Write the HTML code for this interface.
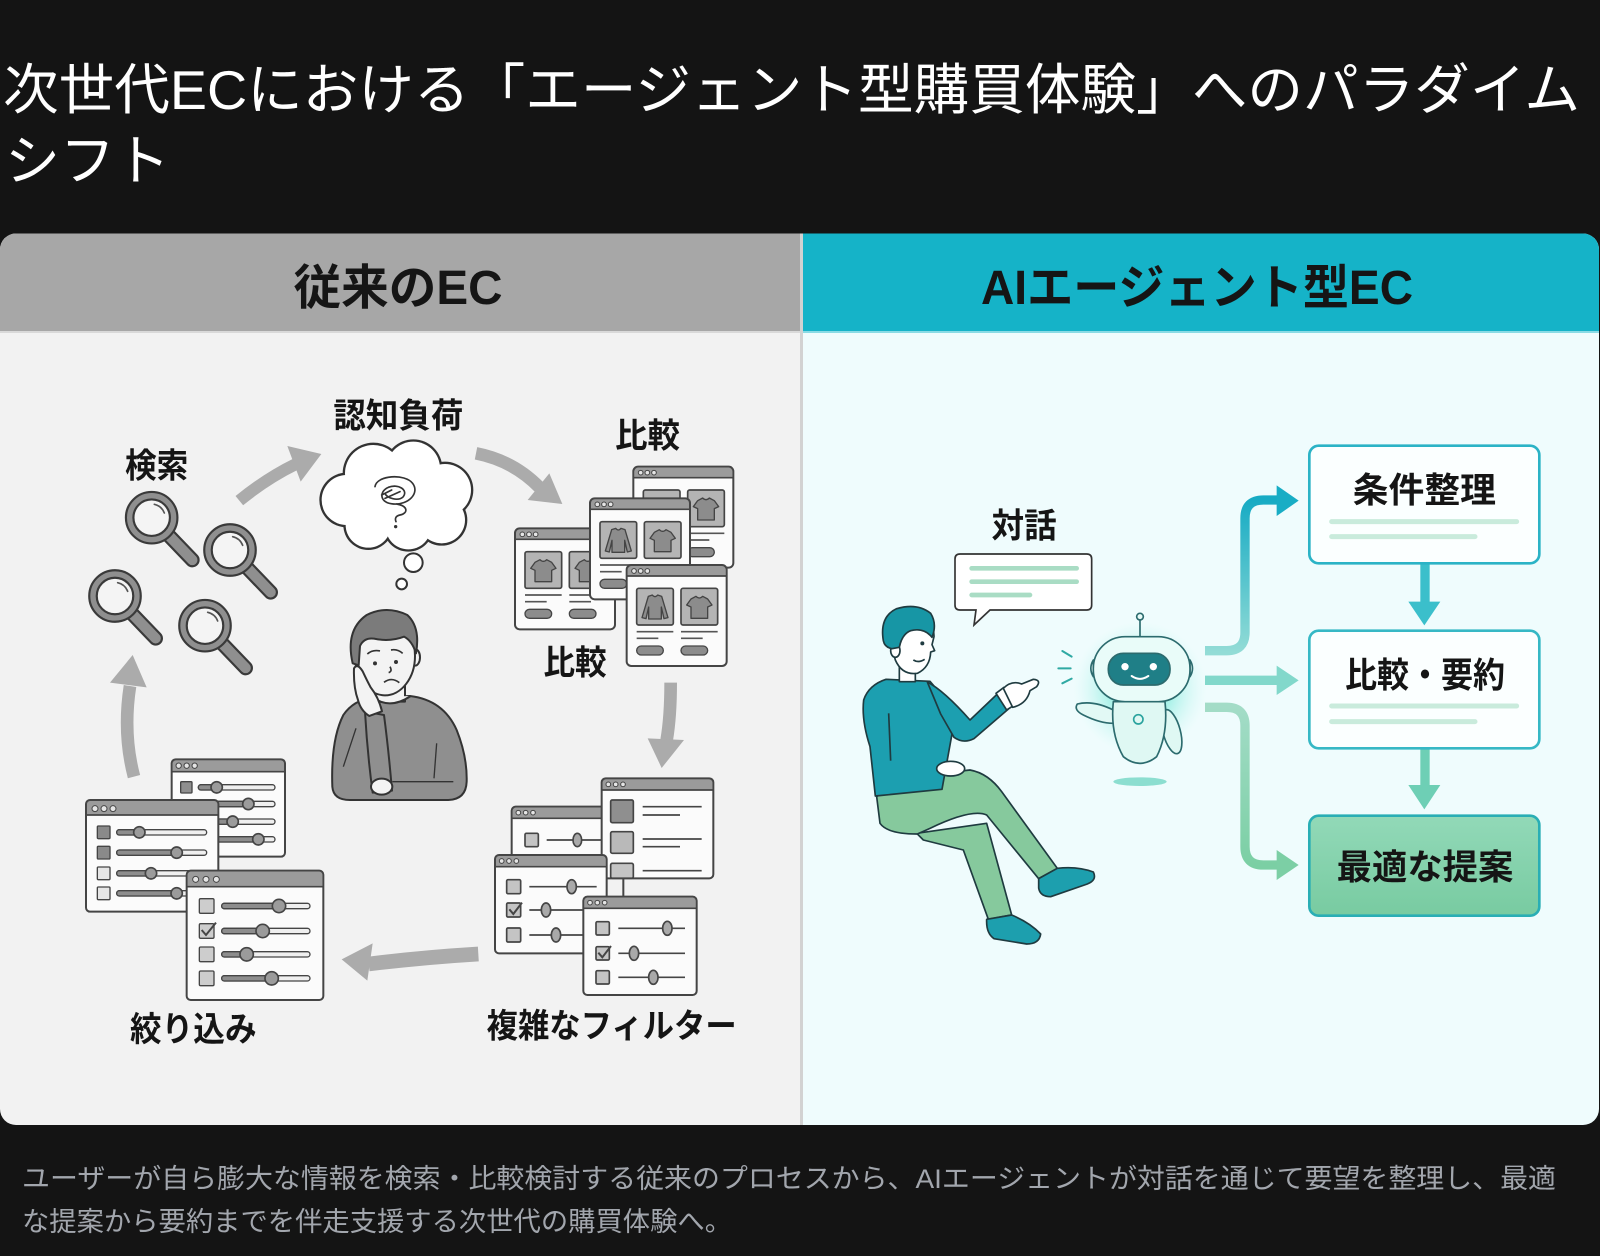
<!DOCTYPE html>
<html lang="ja"><head><meta charset="utf-8">
<style>
html,body{margin:0;padding:0;background:#141414;width:1600px;height:1256px;overflow:hidden}
svg{display:block}
text{font-family:"Liberation Sans","Noto Sans CJK JP",sans-serif}
.b{font-weight:700;fill:#151515}
</style></head><body>
<svg xmlns="http://www.w3.org/2000/svg" width="1600" height="1256" viewBox="0 0 1600 1256">
<defs>
<clipPath id="panel"><rect x="0" y="233.5" width="1599" height="891.5" rx="16"/></clipPath>
<linearGradient id="gTop" gradientUnits="userSpaceOnUse" x1="0" y1="240" x2="0" y2="700"><stop offset="0" stop-color="#17abc4"/><stop offset="1" stop-color="#93dcd6"/></linearGradient>
<linearGradient id="gBot" gradientUnits="userSpaceOnUse" x1="0" y1="862" x2="0" y2="1335"><stop offset="0" stop-color="#a3dcc7"/><stop offset="1" stop-color="#7bcfa4"/></linearGradient>
<linearGradient id="gBox" x1="0" y1="0" x2="0" y2="1"><stop offset="0" stop-color="#92d9b8"/><stop offset="1" stop-color="#78cba1"/></linearGradient>
<radialGradient id="glow" cx="0.5" cy="0.5" r="0.5"><stop offset="0" stop-color="#45e0cc" stop-opacity="0.85"/><stop offset="0.5" stop-color="#6ee8d6" stop-opacity="0.5"/><stop offset="1" stop-color="#bff5ee" stop-opacity="0"/></radialGradient>
<g id="mag">
 <line x1="50" y1="52" x2="122" y2="127" stroke="#3a3a3a" stroke-width="44" stroke-linecap="round"/>
 <line x1="50" y1="52" x2="122" y2="127" stroke="#8f8f8f" stroke-width="31" stroke-linecap="round"/>
 <circle r="66" fill="#f4f4f4" stroke="#3a3a3a" stroke-width="29"/>
 <circle r="66" fill="none" stroke="#8f8f8f" stroke-width="16"/>
 <path d="M8,-40 A42,42 0 0 1 38,-14" fill="none" stroke="#555" stroke-width="5" stroke-linecap="round"/>
</g>
<g id="cwin">
 <rect x="0" y="0" width="300" height="303" rx="14" fill="#fbfbfb"/>
 <rect x="3" y="3" width="294" height="30" fill="#9b9b9b"/>
 <line x1="0" y1="33" x2="300" y2="33" stroke="#454545" stroke-width="5"/>
 <rect x="0" y="0" width="300" height="303" rx="14" fill="none" stroke="#454545" stroke-width="6"/>
 <g fill="#e5e5e5" stroke="#444" stroke-width="3"><circle cx="22" cy="18" r="7"/><circle cx="42" cy="18" r="7"/><circle cx="62" cy="18" r="7"/></g>
 <g fill="#b4b4b4" stroke="#454545" stroke-width="5"><rect x="30" y="70" width="110" height="110" rx="6"/><rect x="163" y="70" width="110" height="110" rx="6"/></g>
 <path d="M30,200 L140,200 M30,220 L95,220 M163,200 L273,200 M163,220 L228,220" stroke="#555" stroke-width="5"/>
 <g fill="#8c8c8c" stroke="#454545" stroke-width="4"><rect x="30" y="243" width="80" height="27" rx="13.5"/><rect x="163" y="243" width="80" height="27" rx="13.5"/></g>
</g>
<path id="tee" d="M30,32 L45,24 Q55,34 65,24 L80,32 L93,50 L80,56 L80,90 L30,90 L30,56 L17,50 Z" fill="#8c8c8c" stroke="#444" stroke-width="4" stroke-linejoin="round"/>
<path id="ls" d="M35,24 L47,20 Q55,30 63,20 L75,24 L94,88 L82,91 L74,56 L74,92 L36,92 L36,56 L28,91 L16,88 Z" fill="#8c8c8c" stroke="#444" stroke-width="4" stroke-linejoin="round"/>
</defs>

<rect width="1600" height="1256" fill="#141414"/>
<text x="3" y="109" font-size="55" fill="#fff" textLength="1577" lengthAdjust="spacingAndGlyphs">次世代ECにおける「エージェント型購買体験」へのパラダイム</text>
<text x="5" y="180" font-size="55" fill="#fff">シフト</text>

<g clip-path="url(#panel)">
 <rect x="0" y="233" width="800" height="893" fill="#f2f2f2"/>
 <rect x="800" y="233" width="800" height="893" fill="#effcfd"/>
 <rect x="0" y="233" width="800" height="99" fill="#a7a7a7"/>
 <rect x="803" y="233" width="797" height="99" fill="#15b3c8"/>
 <rect x="0" y="331" width="800" height="2" fill="#d9d9d9"/>
 <rect x="803" y="331" width="797" height="2" fill="#8adbe5"/>
 <rect x="800" y="233" width="3" height="893" fill="#d2d2d2"/>
</g>
<text class="b" x="398" y="304" font-size="48" text-anchor="middle" textLength="209" lengthAdjust="spacingAndGlyphs">従来のEC</text>
<text class="b" x="1197" y="304" font-size="48" text-anchor="middle" textLength="432" lengthAdjust="spacingAndGlyphs">AIエージェント型EC</text>

<!-- zoom2 region: search, cloud -->
<g transform="translate(80,380) scale(0.33333)">
 <text class="b" x="135" y="293" font-size="102" textLength="190" lengthAdjust="spacingAndGlyphs">検索</text>
 <text class="b" x="760" y="143" font-size="102" textLength="390" lengthAdjust="spacingAndGlyphs">認知負荷</text>
 <path d="M478,362 Q560,295 648,252" fill="none" stroke="#ababab" stroke-width="36"/>
 <polygon points="622,198 724,222 662,305" fill="#ababab"/>
 <use href="#mag" x="215" y="413"/>
 <use href="#mag" x="450" y="510"/>
 <use href="#mag" x="105" y="648"/>
 <use href="#mag" x="375" y="737"/>
 <g fill="#333">
  <circle cx="800" cy="360" r="82"/><circle cx="880" cy="280" r="92"/><circle cx="1000" cy="265" r="87"/><circle cx="1095" cy="330" r="85"/><circle cx="1085" cy="420" r="77"/><circle cx="985" cy="440" r="75"/><circle cx="865" cy="435" r="75"/><circle cx="955" cy="345" r="107"/>
 </g>
 <g fill="#fff">
  <circle cx="800" cy="360" r="75"/><circle cx="880" cy="280" r="85"/><circle cx="1000" cy="265" r="80"/><circle cx="1095" cy="330" r="78"/><circle cx="1085" cy="420" r="70"/><circle cx="985" cy="440" r="68"/><circle cx="865" cy="435" r="68"/><circle cx="955" cy="345" r="100"/>
 </g>
 <path d="M885,320 C890,285 975,280 998,310 C1020,340 985,375 940,372 C900,370 895,335 925,322 C955,310 985,330 970,350 C955,365 920,355 915,340 M905,345 L935,330 M915,355 L960,335 M950,372 C985,378 985,400 960,405 C945,408 945,418 948,425" fill="none" stroke="#333" stroke-width="5" stroke-linecap="round"/>
 <circle cx="947" cy="440" r="5" fill="#333"/>
 <circle cx="1000" cy="548" r="28" fill="#fff" stroke="#333" stroke-width="6"/>
 <circle cx="965" cy="612" r="16" fill="#fff" stroke="#333" stroke-width="6"/>
</g>

<!-- zoom3 region: compare windows -->
<g transform="translate(480,400) scale(0.33333)">
 <text class="b" x="405" y="143" font-size="102" textLength="195" lengthAdjust="spacingAndGlyphs">比較</text>
 <path d="M-12,160 Q100,182 178,262" fill="none" stroke="#ababab" stroke-width="38"/>
 <polygon points="208,220 247,312 143,300" fill="#ababab"/>
 <use href="#cwin" x="460" y="200"/><use href="#tee" x="623" y="270"/>
 <use href="#cwin" x="105" y="385"/><use href="#tee" x="135" y="455"/><use href="#tee" x="268" y="455"/>
 <use href="#cwin" x="330" y="295"/><use href="#ls" x="360" y="365"/><use href="#tee" x="493" y="365"/>
 <use href="#cwin" x="440" y="495"/><use href="#ls" x="470" y="565"/><use href="#tee" x="603" y="565"/>
 <text class="b" x="190" y="823" font-size="102" textLength="190" lengthAdjust="spacingAndGlyphs">比較</text>
</g>

<!-- zoom5 region: complex filters -->
<g transform="translate(470,660) scale(0.33333)">
 <path d="M602,68 Q602,170 590,240" fill="none" stroke="#ababab" stroke-width="38"/>
 <polygon points="533,235 642,240 575,324" fill="#ababab"/>
 <g stroke="#454545" stroke-width="5">
  <rect x="125" y="440" width="295" height="200" rx="12" fill="#fbfbfb" stroke="none"/>
  <rect x="128" y="443" width="289" height="32" fill="#9b9b9b" stroke="none"/>
  <line x1="125" y1="475" x2="420" y2="475"/>
  <rect x="125" y="440" width="295" height="200" rx="12" fill="none" stroke-width="6"/>
  <g fill="#e5e5e5" stroke-width="3"><circle cx="145" cy="458" r="7"/><circle cx="167" cy="458" r="7"/><circle cx="189" cy="458" r="7"/></g>
  <rect x="165" y="520" width="40" height="40" rx="4" fill="#c4c4c4"/>
  <line x1="230" y1="540" x2="415" y2="540"/>
  <ellipse cx="322" cy="540" rx="13" ry="20" fill="#a9a9a9"/>
  <rect x="395" y="355" width="335" height="300" rx="12" fill="#fbfbfb" stroke="none"/>
  <rect x="398" y="358" width="329" height="32" fill="#9b9b9b" stroke="none"/>
  <line x1="395" y1="390" x2="730" y2="390"/>
  <rect x="422" y="420" width="68" height="68" rx="5" fill="#8f8f8f"/>
  <rect x="422" y="515" width="68" height="65" rx="5" fill="#b9b9b9"/>
  <rect x="422" y="610" width="68" height="45" rx="5" fill="#c4c4c4"/>
  <path d="M518,440 L695,440 M518,465 L630,465 M518,537 L695,537 M518,560 L630,560 M518,632 L695,632" fill="none"/>
  <rect x="395" y="355" width="335" height="300" rx="12" fill="none" stroke-width="6"/>
  <g fill="#e5e5e5" stroke-width="3"><circle cx="415" cy="373" r="7"/><circle cx="437" cy="373" r="7"/><circle cx="459" cy="373" r="7"/></g>
  <line x1="460" y1="655" x2="460" y2="712" stroke-width="6"/>
  <rect x="75" y="585" width="335" height="295" rx="12" fill="#fbfbfb" stroke="none"/>
  <rect x="78" y="588" width="329" height="32" fill="#9b9b9b" stroke="none"/>
  <line x1="75" y1="620" x2="410" y2="620"/>
  <rect x="75" y="585" width="335" height="295" rx="12" fill="none" stroke-width="6"/>
  <g fill="#e5e5e5" stroke-width="3"><circle cx="95" cy="603" r="7"/><circle cx="117" cy="603" r="7"/><circle cx="139" cy="603" r="7"/></g>
  <g fill="#c4c4c4"><rect x="110" y="659" width="42" height="42" rx="4"/><rect x="110" y="729" width="42" height="42" rx="4"/><rect x="110" y="804" width="42" height="42" rx="4"/></g>
  <path d="M118,748 L130,762 L156,728" fill="none" stroke-width="6"/>
  <path d="M178,680 L380,680 M178,750 L380,750 M178,825 L380,825" fill="none"/>
  <g fill="#a9a9a9"><ellipse cx="305" cy="680" rx="14" ry="21"/><ellipse cx="228" cy="750" rx="14" ry="21"/><ellipse cx="258" cy="825" rx="14" ry="21"/></g>
  <rect x="340" y="710" width="340" height="295" rx="12" fill="#fbfbfb" stroke="none"/>
  <rect x="343" y="713" width="334" height="32" fill="#9b9b9b" stroke="none"/>
  <line x1="340" y1="745" x2="680" y2="745"/>
  <rect x="340" y="710" width="340" height="295" rx="12" fill="none" stroke-width="6"/>
  <g fill="#e5e5e5" stroke-width="3"><circle cx="360" cy="728" r="7"/><circle cx="382" cy="728" r="7"/><circle cx="404" cy="728" r="7"/></g>
  <g fill="#c4c4c4"><rect x="378" y="785" width="40" height="40" rx="4"/><rect x="378" y="860" width="40" height="40" rx="4"/><rect x="378" y="932" width="40" height="40" rx="4"/></g>
  <path d="M385,878 L397,892 L423,858" fill="none" stroke-width="6"/>
  <path d="M445,805 L645,805 M445,880 L645,880 M445,952 L645,952" fill="none"/>
  <g fill="#a9a9a9"><ellipse cx="592" cy="805" rx="14" ry="21"/><ellipse cx="492" cy="880" rx="14" ry="21"/><ellipse cx="550" cy="952" rx="14" ry="21"/></g>
 </g>
 <text class="b" x="50" y="1133" font-size="100" textLength="750" lengthAdjust="spacingAndGlyphs">複雑なフィルター</text>
</g>

<!-- zoom4 region: narrowing, sad person -->
<g transform="translate(80,600) scale(0.33333)">
 <path d="M162,530 Q128,400 150,258" fill="none" stroke="#ababab" stroke-width="38"/>
 <polygon points="90,248 158,165 200,262" fill="#ababab"/>
 <path d="M1195,1062 Q1030,1072 866,1092" fill="none" stroke="#ababab" stroke-width="44"/>
 <polygon points="878,1030 785,1078 862,1142" fill="#ababab"/>
 <g stroke="#454545" stroke-width="4">
  <rect x="275" y="478" width="340" height="292" rx="12" fill="#fbfbfb" stroke="none"/>
  <rect x="278" y="481" width="334" height="34" fill="#9b9b9b" stroke="none"/>
  <line x1="275" y1="515" x2="615" y2="515" stroke-width="5"/>
  <rect x="275" y="478" width="340" height="292" rx="12" fill="none" stroke-width="6"/>
  <g fill="#e5e5e5" stroke-width="3"><circle cx="296" cy="497" r="8"/><circle cx="320" cy="497" r="8"/><circle cx="344" cy="497" r="8"/></g>
  <rect x="302" y="545" width="34" height="34" rx="3" fill="#8f8f8f"/>
  <g fill="#efefef"><rect x="355" y="554" width="230" height="16" rx="8"/><rect x="355" y="604" width="230" height="16" rx="8"/><rect x="355" y="657" width="230" height="16" rx="8"/><rect x="355" y="710" width="230" height="16" rx="8"/></g>
  <g fill="#8d8d8d"><rect x="355" y="554" width="55" height="16" rx="8"/><rect x="355" y="604" width="150" height="16" rx="8"/><rect x="355" y="657" width="103" height="16" rx="8"/><rect x="355" y="710" width="180" height="16" rx="8"/></g>
  <g fill="#9b9b9b" stroke-width="5"><circle cx="410" cy="562" r="17"/><circle cx="505" cy="612" r="17"/><circle cx="458" cy="665" r="17"/><circle cx="535" cy="718" r="17"/></g>
  <rect x="18" y="600" width="397" height="335" rx="12" fill="#fbfbfb" stroke="none"/>
  <rect x="21" y="603" width="391" height="42" fill="#9b9b9b" stroke="none"/>
  <line x1="18" y1="645" x2="415" y2="645" stroke-width="5"/>
  <rect x="18" y="600" width="397" height="335" rx="12" fill="none" stroke-width="6"/>
  <g fill="#e5e5e5" stroke-width="3"><circle cx="45" cy="626" r="9"/><circle cx="72" cy="626" r="9"/><circle cx="99" cy="626" r="9"/></g>
  <rect x="52" y="678" width="38" height="38" rx="3" fill="#8a8a8a"/>
  <rect x="52" y="739" width="38" height="38" rx="3" fill="#8a8a8a"/>
  <rect x="52" y="801" width="38" height="38" rx="3" fill="#e6e6e6"/>
  <rect x="52" y="861" width="38" height="38" rx="3" fill="#e6e6e6"/>
  <g fill="#efefef"><rect x="110" y="689" width="270" height="16" rx="8"/><rect x="110" y="750" width="270" height="16" rx="8"/><rect x="110" y="812" width="270" height="16" rx="8"/><rect x="110" y="872" width="270" height="16" rx="8"/></g>
  <g fill="#8d8d8d"><rect x="110" y="689" width="68" height="16" rx="8"/><rect x="110" y="750" width="180" height="16" rx="8"/><rect x="110" y="812" width="103" height="16" rx="8"/><rect x="110" y="872" width="180" height="16" rx="8"/></g>
  <g fill="#9b9b9b" stroke-width="5"><circle cx="178" cy="697" r="17"/><circle cx="290" cy="758" r="17"/><circle cx="213" cy="820" r="17"/><circle cx="290" cy="880" r="17"/></g>
  <rect x="320" y="812" width="410" height="388" rx="12" fill="#fbfbfb" stroke="none"/>
  <rect x="323" y="815" width="404" height="45" fill="#9b9b9b" stroke="none"/>
  <line x1="320" y1="860" x2="730" y2="860" stroke-width="5"/>
  <rect x="320" y="812" width="410" height="388" rx="12" fill="none" stroke-width="6"/>
  <g fill="#e5e5e5" stroke-width="3"><circle cx="347" cy="838" r="9"/><circle cx="378" cy="838" r="9"/><circle cx="409" cy="838" r="9"/></g>
  <g fill="#cdcdcd"><rect x="358" y="896" width="44" height="44" rx="4"/><rect x="358" y="971" width="44" height="44" rx="4"/><rect x="358" y="1041" width="44" height="44" rx="4"/><rect x="358" y="1113" width="44" height="44" rx="4"/></g>
  <path d="M365,990 L378,1005 L408,968" fill="none" stroke-width="6"/>
  <g fill="#efefef"><rect x="425" y="910" width="265" height="16" rx="8"/><rect x="425" y="985" width="265" height="16" rx="8"/><rect x="425" y="1055" width="265" height="16" rx="8"/><rect x="425" y="1127" width="265" height="16" rx="8"/></g>
  <g fill="#8d8d8d"><rect x="425" y="910" width="172" height="16" rx="8"/><rect x="425" y="985" width="123" height="16" rx="8"/><rect x="425" y="1055" width="75" height="16" rx="8"/><rect x="425" y="1127" width="150" height="16" rx="8"/></g>
  <g fill="#9b9b9b" stroke-width="5"><circle cx="597" cy="918" r="20"/><circle cx="548" cy="993" r="20"/><circle cx="500" cy="1063" r="20"/><circle cx="575" cy="1135" r="20"/></g>
 </g>
 <g stroke="#333" stroke-width="6" stroke-linejoin="round">
  <path d="M757,560 Q752,420 790,345 Q820,300 880,292 L990,288 Q1090,300 1130,390 Q1162,470 1160,545 Q1158,598 1105,600 L810,600 Q760,600 757,560 Z" fill="#8f8f8f"/>
  <path d="M790,500 L828,385" fill="none" stroke-width="4"/>
  <path d="M1062,535 L1070,430" fill="none" stroke-width="4"/>
  <rect x="885" y="240" width="90" height="65" fill="#f3f3f3"/>
  <path d="M878,292 Q930,330 992,288" fill="#f3f3f3"/>
  <ellipse cx="1005" cy="172" rx="15" ry="25" fill="#f3f3f3"/>
  <ellipse cx="915" cy="168" rx="90" ry="118" fill="#f3f3f3"/>
  <path d="M818,190 Q795,90 860,45 Q920,15 982,45 Q1022,82 1008,160 Q996,122 972,110 Q930,126 882,116 Q852,112 840,138 L836,196 Z" fill="#7b7b7b"/>
  <path d="M862,162 Q878,148 900,153 M933,150 Q952,146 968,160 M930,200 Q938,214 926,218 M912,247 Q935,230 958,248" fill="none" stroke-width="5"/>
  <circle cx="885" cy="190" r="6" fill="#333" stroke="none"/>
  <circle cx="948" cy="186" r="6" fill="#333" stroke="none"/>
  <path d="M855,335 Q862,460 878,578 L936,572 Q926,452 912,345 Z" fill="#8f8f8f"/>
  <path d="M822,205 Q832,188 848,214 Q862,244 872,262 Q896,292 906,334 L868,348 Q842,332 834,300 Q820,262 822,205 Z" fill="#f3f3f3"/>
  <ellipse cx="905" cy="560" rx="32" ry="24" fill="#f3f3f3"/>
  <path d="M937,545 L1120,545" fill="none" stroke-width="4"/>
 </g>
 <text class="b" x="150" y="1323" font-size="102" textLength="380" lengthAdjust="spacingAndGlyphs">絞り込み</text>
</g>

<!-- zoom6 region: person + robot -->
<g transform="translate(830,480) scale(0.33333)">
 <text class="b" x="485" y="173" font-size="102" textLength="195" lengthAdjust="spacingAndGlyphs">対話</text>
 <path d="M390,222 L770,222 Q785,222 785,237 L785,375 Q785,390 770,390 L480,390 L432,435 L438,390 L390,390 Q375,390 375,375 L375,237 Q375,222 390,222 Z" fill="#fff" stroke="#333" stroke-width="5"/>
 <path d="M425,265 L740,265 M425,305 L740,305 M425,345 L600,345" stroke="#a9dcc4" stroke-width="14" stroke-linecap="round"/>
 <g stroke="#1f3b40" stroke-width="5" stroke-linejoin="round">
  <path d="M260,1060 L470,1030 L545,1305 L475,1318 L400,1110 L280,1080 Z" fill="#86c99d"/>
  <path d="M470,1318 L545,1305 Q600,1328 632,1362 Q628,1392 590,1392 L492,1376 Q468,1360 470,1318 Z" fill="#1d9fae"/>
  <path d="M140,950 Q200,900 330,880 L420,870 Q475,880 515,935 L682,1165 L626,1196 L470,1005 Q425,985 300,1045 L262,1062 Q172,1062 150,1030 Z" fill="#86c99d"/>
  <path d="M626,1196 L682,1165 Q742,1158 790,1176 Q802,1200 772,1212 L662,1250 Q630,1250 626,1224 Z" fill="#1d9fae"/>
  <path d="M168,598 Q116,615 101,660 Q94,720 120,800 L136,948 L336,928 L366,762 Q346,652 300,604 Z" fill="#1c9fb0"/>
  <path d="M176,700 L182,842" fill="none"/>
  <ellipse cx="362" cy="866" rx="42" ry="22" fill="#fff"/>
  <path d="M292,606 Q342,632 420,720 L502,642 L534,688 L432,776 Q400,792 372,772 L332,702 Z" fill="#1c9fb0"/>
  <path d="M498,640 L522,622 L552,676 L530,690 Z" fill="#fff"/>
  <path d="M520,625 Q545,600 575,612 L610,598 Q635,600 620,620 L600,632 Q590,672 548,682 Z" fill="#fff"/>
  <rect x="208" y="555" width="48" height="50" fill="#fff"/>
  <path d="M178,470 Q182,382 252,386 Q312,396 312,470 L306,494 L314,512 L302,516 Q300,562 262,580 Q216,586 196,540 Z" fill="#fff"/>
  <ellipse cx="196" cy="512" rx="14" ry="20" fill="#fff"/>
  <path d="M160,482 Q148,410 200,386 Q262,368 302,400 Q322,432 306,472 Q282,442 242,452 Q216,462 208,502 L186,506 Q164,502 160,482 Z" fill="#1796a5"/>
  <circle cx="277" cy="490" r="6" fill="#1f3b40" stroke="none"/>
  <path d="M250,540 Q266,550 284,538" fill="none"/>
 </g>
 <circle cx="930" cy="625" r="200" fill="url(#glow)"/>
 <ellipse cx="930" cy="905" rx="80" ry="13" fill="#7ad8c8" opacity="0.85"/>
 <path d="M697,513 L725,530 M685,565 L722,565 M697,610 L725,596" stroke="#2fa9a3" stroke-width="6" stroke-linecap="round"/>
 <g stroke="#2c6b6e" stroke-width="5" stroke-linejoin="round">
  <line x1="930" y1="420" x2="930" y2="472"/>
  <circle cx="930" cy="410" r="10" fill="#e8fbf8"/>
  <path d="M850,690 Q790,660 742,672 Q730,690 760,705 Q810,730 850,730 Z" fill="#e2f9f5"/>
  <ellipse cx="1025" cy="755" rx="26" ry="68" transform="rotate(-15 1025 755)" fill="#dff8f3"/>
  <path d="M850,665 Q840,760 880,830 Q930,870 980,830 Q1015,760 1005,665 Z" fill="#dff8f3"/>
  <circle cx="925" cy="718" r="14" fill="none" stroke="#2aa39e"/>
  <path d="M790,540 Q775,565 790,590 Z M1080,540 Q1095,565 1080,590 Z" fill="#e9fcf9"/>
  <rect x="790" y="470" width="290" height="195" rx="95" fill="#e9fcf9"/>
  <rect x="835" y="520" width="185" height="95" rx="45" fill="#1f7f87"/>
 </g>
 <circle cx="885" cy="560" r="11" fill="#fff"/>
 <circle cx="970" cy="560" r="11" fill="#fff"/>
 <path d="M905,588 Q930,605 955,588" fill="none" stroke="#fff" stroke-width="6" stroke-linecap="round"/>
</g>

<!-- zoom7 region: flow boxes -->
<g transform="translate(1180,420) scale(0.33333)">
 <path d="M75,692 L140,692 Q195,692 195,637 L195,295 Q195,240 250,240 L292,240" fill="none" stroke="url(#gTop)" stroke-width="28"/>
 <polygon points="290,196 356,242 290,288" fill="#18adc5"/>
 <path d="M75,781 L292,781" stroke="#82d8cb" stroke-width="28"/>
 <polygon points="290,737 356,781 290,825" fill="#82d8cb"/>
 <path d="M75,862 L140,862 Q195,862 195,917 L195,1280 Q195,1335 250,1335 L292,1335" fill="none" stroke="url(#gBot)" stroke-width="28"/>
 <polygon points="290,1290 356,1335 290,1380" fill="#7ccfa5"/>
 <rect x="721" y="428" width="28" height="120" fill="#3bbfcb"/>
 <polygon points="685,545 781,545 733,616" fill="#3bbfcb"/>
 <rect x="721" y="983" width="28" height="115" fill="#6ecfb5"/>
 <polygon points="685,1095 781,1095 733,1168" fill="#6ecfb5"/>
 <rect x="388" y="77" width="690" height="353" rx="28" fill="#fbffff" stroke="#2bb3c6" stroke-width="8"/>
 <path d="M455,305 L1010,305 M455,350 L885,350" stroke="#c9ebdc" stroke-width="15" stroke-linecap="round"/>
 <text class="b" x="733" y="248" font-size="106" text-anchor="middle" textLength="430" lengthAdjust="spacingAndGlyphs">条件整理</text>
 <rect x="388" y="632" width="690" height="353" rx="28" fill="#fbffff" stroke="#36b8c5" stroke-width="8"/>
 <path d="M455,858 L1010,858 M455,905 L885,905" stroke="#c9ebdc" stroke-width="15" stroke-linecap="round"/>
 <text class="b" x="735" y="803" font-size="106" text-anchor="middle" textLength="480" lengthAdjust="spacingAndGlyphs">比較・要約</text>
 <rect x="388" y="1187" width="690" height="300" rx="28" fill="url(#gBox)" stroke="#29aeb5" stroke-width="8"/>
 <text class="b" x="735" y="1378" font-size="106" text-anchor="middle" textLength="530" lengthAdjust="spacingAndGlyphs">最適な提案</text>
</g>

<text x="22" y="1188" font-size="27" fill="#a2a6ad" textLength="1534" lengthAdjust="spacingAndGlyphs">ユーザーが自ら膨大な情報を検索・比較検討する従来のプロセスから、AIエージェントが対話を通じて要望を整理し、最適</text>
<text x="22" y="1231" font-size="27" fill="#a2a6ad" textLength="710" lengthAdjust="spacingAndGlyphs">な提案から要約までを伴走支援する次世代の購買体験へ。</text>
</svg>
</body></html>
